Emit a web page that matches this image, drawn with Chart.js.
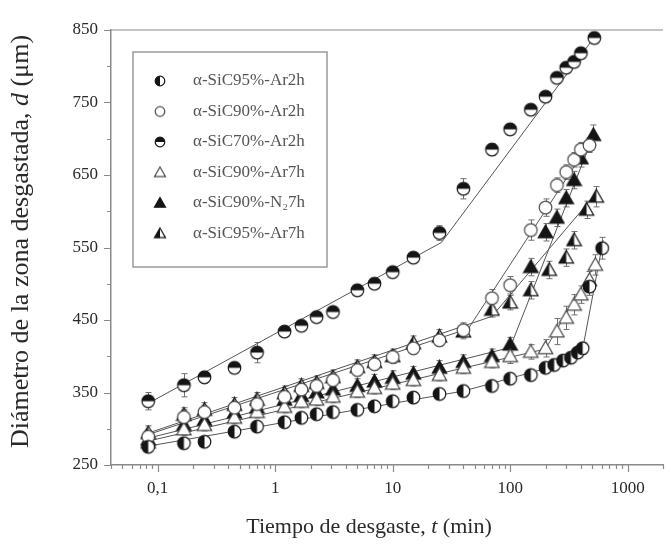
<!DOCTYPE html>
<html><head><meta charset="utf-8">
<script src="https://cdn.jsdelivr.net/npm/chart.js@4.4.1/dist/chart.umd.min.js"></script>
<style>html,body{margin:0;padding:0;background:#fff;overflow:hidden}</style>
</head><body>
<canvas id="c" width="671" height="547"></canvas>
<script>
// ---------- data ----------
const seriesLabels = ['α-SiC95%-Ar2h','α-SiC90%-Ar2h','α-SiC70%-Ar2h','α-SiC90%-Ar7h','α-SiC90%-N₂7h','α-SiC95%-Ar7h'];
const seriesMarkers = ['circleLeft','circleOpen','circleTop','triOpen','triFull','triLeft'];

// wear time t (min), crater diameter d (µm), error (µm)
const t95Ar2h = [0.083,0.167,0.25,0.45,0.7,1.2,1.67,2.25,3.1,5,7,10,15,25,40,70,100,150,200,237,282,329,376,414,473,607];
const d95Ar2h = [275,280,282,296,303,309,315,320,323,326,331,338,343,348,352,359,369,374,384,388,394,398,405,411,496,549];
const e95Ar2h = [5,5,5,5,5,5,5,5,5,5,5,5,5,5,5,5,5,6,6,6,6,6,6,8,12,15];

const t90Ar2h = [0.083,0.167,0.25,0.45,0.7,1.2,1.67,2.25,3.1,5,7,10,15,25,40,70,100,150,200,250,300,350,400,473];
const d90Ar2h = [289,316,323,329,334,344,354,359,367,381,389,399,411,422,436,480,498,574,605,636,654,671,685,691];
const e90Ar2h = [8,10,8,8,8,8,8,8,8,8,8,8,8,8,10,12,12,14,12,10,10,10,10,10];

const t70Ar2h = [0.083,0.167,0.25,0.45,0.7,1.2,1.67,2.25,3.1,5,7,10,15,25,40,70,100,150,200,250,300,350,400,521];
const d70Ar2h = [338,360,371,384,405,434,442,454,461,491,500,516,536,570,631,685,713,740,758,784,798,806,818,839];
const e70Ar2h = [12,16,8,6,14,6,6,6,6,6,6,6,6,10,14,8,6,6,6,6,6,6,6,6];

const t90Ar7h = [0.083,0.167,0.25,0.45,0.7,1.2,1.67,2.25,3.1,5,7,10,15,25,40,70,100,150,200,250,300,350,400,473,531];
const d90Ar7h = [281,299,305,315,323,330,337,340,344,351,356,362,367,374,384,392,400,406,411,434,453,471,485,505,526];
const e90Ar7h = [8,8,8,8,8,8,8,8,8,8,8,8,8,8,8,8,10,10,12,18,16,14,12,12,14];

const t90N27h = [0.083,0.167,0.25,0.45,0.7,1.2,1.67,2.25,3.1,5,7,10,15,25,40,70,100,150,200,250,300,350,400,511];
const d90N27h = [285,305,312,322,329,340,345,350,354,359,365,370,376,384,392,400,416,523,571,591,618,643,673,705];
const e90N27h = [10,12,10,10,10,10,10,10,10,10,10,10,10,10,10,10,10,12,12,12,12,12,12,14];

const t95Ar7h = [0.083,0.167,0.25,0.45,0.7,1.2,1.67,2.25,3.1,5,7,10,15,25,40,70,100,150,215,300,350,447,541];
const d95Ar7h = [294,319,326,333,340,349,359,363,371,385,392,400,418,427,434,464,474,491,519,536,560,602,620];
const e95Ar7h = [10,10,10,10,10,10,10,10,10,10,10,10,10,10,10,10,10,12,12,12,12,12,14];

// fitted piecewise lines (vertices)
const fit95Ar2hT = [0.083,40,200,414,619];   const fit95Ar2hD = [276,352,383,410,560];
const fit90Ar2hT = [0.083,44,492];           const fit90Ar2hD = [292,438,698];
const fit70Ar2hT = [0.083,26,531];           const fit70Ar2hD = [335,557,842];
const fit90Ar7hT = [0.083,200,541];          const fit90Ar7hD = [283,410,530];
const fit90N27hT = [0.083,100,521];          const fit90N27hD = [287,412,708];
const fit95Ar7hT = [0.083,70,541];           const fit95Ar7hD = [294,455,625];

const xTickValues = [0.1,1,10,100,1000];
const xTickLabels = ['0,1','1','10','100','1000'];
const yTickValues = [250,350,450,550,650,750,850];

// axis titles: [text, italic?] pieces
const xTitleParts = [['Tiempo de desgaste, ',false],['t',true],[' (min)',false]];
const yTitleParts = [['Diámetro de la zona desgastada, ',false],['d',true],[' (μm)',false]];

// ---------- build ----------
const seriesT = [t95Ar2h,t90Ar2h,t70Ar2h,t90Ar7h,t90N27h,t95Ar7h];
const seriesD = [d95Ar2h,d90Ar2h,d70Ar2h,d90Ar7h,d90N27h,d95Ar7h];
const seriesE = [e95Ar2h,e90Ar2h,e70Ar2h,e90Ar7h,e90N27h,e95Ar7h];
const fitT = [fit95Ar2hT,fit90Ar2hT,fit70Ar2hT,fit90Ar7hT,fit90N27hT,fit95Ar7hT];
const fitD = [fit95Ar2hD,fit90Ar2hD,fit70Ar2hD,fit90Ar7hD,fit90N27hD,fit95Ar7hD];
const SERIF = '"Liberation Serif", "Times New Roman", serif';

function makeMarker(kind, r){
  const s = Math.ceil(r*2+4);
  const c = document.createElement('canvas'); c.width = s; c.height = s;
  const g = c.getContext('2d'); const cx = s/2, cy = s/2;
  g.lineWidth = 1.2;
  const dark = '#151515';
  if (kind.startsWith('circle')) {
    g.beginPath(); g.arc(cx,cy,r,0,Math.PI*2); g.fillStyle='#fff'; g.fill();
    g.fillStyle = dark;
    if (kind==='circleLeft'){ g.beginPath(); g.moveTo(cx,cy-r); g.arc(cx,cy,r,-Math.PI/2,Math.PI/2,true); g.closePath(); g.fill(); }
    if (kind==='circleTop'){ g.beginPath(); g.moveTo(cx-r,cy); g.arc(cx,cy,r,Math.PI,Math.PI*2,false); g.closePath(); g.fill(); }
    g.beginPath(); g.arc(cx,cy,r,0,Math.PI*2);
    g.strokeStyle = kind==='circleOpen' ? '#4a4a4a' : dark; g.stroke();
  } else {
    const h = r*1.15;
    const top=[cx,cy-h], br=[cx+h,cy+h*0.75], bl=[cx-h,cy+h*0.75];
    g.beginPath(); g.moveTo(...top); g.lineTo(...br); g.lineTo(...bl); g.closePath();
    g.fillStyle = kind==='triFull' ? dark : '#fff'; g.fill();
    if (kind==='triLeft'){ g.beginPath(); g.moveTo(...top); g.lineTo(cx,cy+h*0.75); g.lineTo(...bl); g.closePath(); g.fillStyle=dark; g.fill(); }
    g.beginPath(); g.moveTo(...top); g.lineTo(...br); g.lineTo(...bl); g.closePath();
    g.strokeStyle = kind==='triOpen' ? '#4a4a4a' : dark; g.stroke();
  }
  return c;
}
const markerImgs = seriesMarkers.map(k => makeMarker(k, 6.3));
const legendImgs = seriesMarkers.map(k => makeMarker(k, 4.8));

const datasets = [];
seriesLabels.forEach((lab,i)=>{
  datasets.push({
    type:'scatter', label: lab, order: 0, legendImg: legendImgs[i],
    data: seriesT[i].map((t,j)=>({x:t, y:seriesD[i][j]})),
    errors: seriesE[i],
    pointStyle: markerImgs[i], pointRadius: 7,
    showLine:false
  });
});
seriesLabels.forEach((lab,i)=>{
  datasets.push({
    type:'line', label: 'fit '+lab, order: 1, isFit:true,
    data: fitT[i].map((t,j)=>({x:t, y:fitD[i][j]})),
    borderColor:'#555', borderWidth:1, pointRadius:0, tension:0, fill:false
  });
});

const errorBars = {
  id:'errorBars',
  beforeDatasetsDraw(chart){
    const {ctx, scales:{x,y}} = chart;
    ctx.save(); ctx.strokeStyle='#707070'; ctx.lineWidth=1;
    chart.data.datasets.forEach(ds=>{
      if(!ds.errors) return;
      ds.data.forEach((p,j)=>{
        const e = ds.errors[j]; if(!e) return;
        const px = Math.round(x.getPixelForValue(p.x))+0.5;
        const t = y.getPixelForValue(p.y+e), b = y.getPixelForValue(p.y-e);
        ctx.beginPath();
        ctx.moveTo(px,t); ctx.lineTo(px,b);
        ctx.moveTo(px-3,t); ctx.lineTo(px+3,t);
        ctx.moveTo(px-3,b); ctx.lineTo(px+3,b);
        ctx.stroke();
      });
    });
    ctx.restore();
  }
};

function drawRich(ctx, parts, size){
  const fontN = size+'px '+SERIF, fontI = 'italic '+size+'px '+SERIF;
  let total = 0;
  parts.forEach(([s,it])=>{ ctx.font = it?fontI:fontN; total += ctx.measureText(s).width; });
  let x = -total/2;
  parts.forEach(([s,it])=>{ ctx.font = it?fontI:fontN; ctx.fillText(s,x,0); x += ctx.measureText(s).width; });
}

const axisDecor = {
  id:'axisDecor',
  afterDraw(chart){
    const {ctx, chartArea:a, scales:{x,y}} = chart;
    ctx.save(); ctx.strokeStyle='#8a8a8a'; ctx.lineWidth=1.2;
    ctx.beginPath(); ctx.moveTo(a.left,a.top); ctx.lineTo(a.right,a.top); ctx.stroke();
    ctx.beginPath();
    for(let e=-2;e<=4;e++){
      for(let m=1;m<=9;m++){
        const v=m*Math.pow(10,e);
        if(v<x.min||v>x.max) continue;
        const px=Math.round(x.getPixelForValue(v))+0.5;
        const len = m===1?7:4;
        ctx.moveTo(px,a.bottom); ctx.lineTo(px,a.bottom+len);
      }
    }
    for(let v=y.min; v<=y.max; v+=50){
      const py=Math.round(y.getPixelForValue(v))+0.5;
      const len = ((v-250)%100===0)?7:4;
      ctx.moveTo(a.left,py); ctx.lineTo(a.left-len,py);
    }
    ctx.stroke();
    ctx.fillStyle='#2a2a2a'; ctx.textBaseline='middle'; ctx.textAlign='left';
    ctx.save(); ctx.translate(a.left+258, a.bottom+62); drawRich(ctx, xTitleParts, 22); ctx.restore();
    ctx.save(); ctx.translate(21, (a.top+a.bottom)/2 - 6); ctx.rotate(-Math.PI/2); drawRich(ctx, yTitleParts, 26); ctx.restore();
    ctx.restore();
  }
};

const frameLegend = {
  id:'frameLegend',
  afterDraw(chart){
    const {ctx, chartArea:a} = chart;
    const L = a.left+22, T = a.top+22, W = 194, H = 215;
    ctx.save();
    ctx.fillStyle='#fff'; ctx.fillRect(L,T,W,H);
    ctx.strokeStyle='#9a9a9a'; ctx.lineWidth=1.5; ctx.strokeRect(L,T,W,H);
    ctx.font = '17px '+SERIF; ctx.fillStyle='#555'; ctx.textBaseline='middle';
    chart.data.datasets.filter(d=>!d.isFit).forEach((ds,i)=>{
      const cy = T + 29 + i*30.5;
      const img = ds.legendImg;
      ctx.drawImage(img, L+27-img.width/2, cy-img.height/2);
      ctx.fillText(ds.label, L+60, cy);
    });
    ctx.restore();
  }
};

new Chart(document.getElementById('c'), {
  type:'scatter',
  data:{datasets},
  options:{
    responsive:false, animation:false, events:[],
    layout:{padding:{top:30,right:0,bottom:0,left:0}},
    plugins:{legend:{display:false}, tooltip:{enabled:false}},
    scales:{
      x:{
        type:'logarithmic', position:'bottom', min:0.04, max:2000,
        afterBuildTicks: s => { s.ticks = xTickValues.map(v=>({value:v, major:true})); },
        afterFit: s => { s.height = 82; },
        ticks:{autoSkip:false, maxRotation:0, padding:13, color:'#2a2a2a',
          font:{family:SERIF, size:17},
          callback:(v)=>{ const k = xTickValues.findIndex(t=>Math.abs(t-v)/t<1e-6); return k>=0?xTickLabels[k]:''; }},
        grid:{display:true, drawOnChartArea:false, drawTicks:false},
        border:{display:true, color:'#8a8a8a', width:1.5},
        title:{display:false}
      },
      y:{
        type:'linear', min:250, max:850,
        afterBuildTicks: s => { s.ticks = yTickValues.map(v=>({value:v})); },
        afterFit: s => { s.width = 111; },
        ticks:{padding:13, color:'#2a2a2a', font:{family:SERIF, size:17}},
        grid:{display:true, drawOnChartArea:false, drawTicks:false},
        border:{display:true, color:'#8a8a8a', width:1.5},
        title:{display:false}
      }
    }
  },
  plugins:[errorBars, axisDecor, frameLegend]
});
</script>
</body></html>
